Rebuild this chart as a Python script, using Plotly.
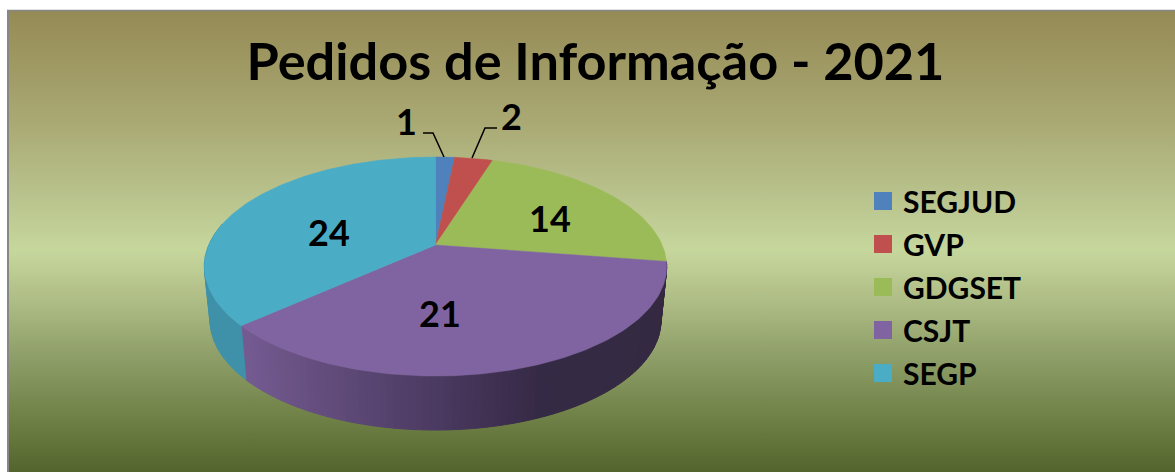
import math
import plotly.graph_objects as go

# ---- data ----
categories = ["SEGJUD", "GVP", "GDGSET", "CSJT", "SEGP"]
printed_labels = ["1", "2", "14", "21", "24"]
slice_sizes = [1.0, 2.0, 14.0, 22.3, 22.7]   # slice shares
title_text = "Pedidos de Informação - 2021"

# ---- style ----
top_colors = ["#4F81BD", "#C0504D", "#9BBB59", "#8064A2", "#4BACC6"]
bg_stops = [(0.0, "#958A55"), (0.238, "#A9A873"), (0.411, "#BAC48E"), (0.52, "#C6D79C"),
            (0.63, "#AEBC85"), (0.76, "#8C9C66"), (0.89, "#6D7F44"), (1.0, "#53652D")]
W, H = 1175, 472
CX, APEX_Y, A, B, K = 435.5, 245.0, 226.7, 105.3, 0.1964
DEPTH, SHRINK = 54.0, 0.975
label_xy = [(406, 121), (511, 116), (550, 218), (440, 313), (329, 232)]
font = "Lato"


def project(t_deg, r=1.0, lower=False):
    t = math.radians(t_deg)
    u, v = r * math.sin(t), r * math.cos(t)
    w = 1 + K * v
    x, y = A * u / w, B * v / w
    if lower:
        return CX + x * SHRINK, APEX_Y - y + DEPTH
    return CX + x, APEX_Y - y


def mix(stops, p):
    for (p0, c0), (p1, c1) in zip(stops, stops[1:]):
        if p <= p1:
            f = (p - p0) / (p1 - p0) if p1 > p0 else 0
            a = [int(c0[i:i + 2], 16) for i in (1, 3, 5)]
            b = [int(c1[i:i + 2], 16) for i in (1, 3, 5)]
            return "rgb(%d,%d,%d)" % tuple(round(a[i] + (b[i] - a[i]) * f) for i in range(3))
    return stops[-1][1]


purple_side = [(0, "#755B92"), (100, "#5F4A78"), (200, "#4A3960"), (260, "#3E2F50"), (300, "#352A45"), (500, "#33293F")]
blue_side = [(0, "#3E91A9"), (100, "#3E91A9")]

total = sum(slice_sizes)
edges = [0.0]
for s in slice_sizes:
    edges.append(edges[-1] + 360.0 * s / total)

fig = go.Figure()
fig.add_trace(go.Scatter(
    x=[7, W, W, 7, 7], y=[10, 10, H, H, 10], mode="lines", line=dict(width=0),
    fill="toself", fillcolor="rgba(0,0,0,0)",
    fillgradient=dict(type="vertical", start=10, stop=H,
                      colorscale=[[p, c] for p, c in bg_stops]),
    hoverinfo="skip", showlegend=False))


def strip(t0, t1, colour):
    pts = [project(t0), project(t1), project(t1, lower=True), project(t0, lower=True)]
    pts.append(pts[0])
    fig.add_trace(go.Scatter(
        x=[p[0] for p in pts], y=[p[1] for p in pts], mode="lines",
        line=dict(width=1, color=colour), fill="toself", fillcolor=colour,
        hoverinfo="skip", showlegend=False))


# Visible rim: purple then blue, with a colour ramp along the screen x position
t = edges[3]
while t < edges[4]:
    t1 = min(t + 1.5, edges[4])
    x_mid = project((t + t1) / 2)[0] - 240
    strip(t, t1, mix(purple_side, max(0, x_mid)))
    t = t1
t = edges[4]
while t < 282:
    t1 = min(t + 4, 282)
    strip(t, t1, blue_side[0][1])
    t = t1

# Top face
for i, cat in enumerate(categories):
    n = max(2, int((edges[i + 1] - edges[i]) / 1.0))
    arc = [project(edges[i] + (edges[i + 1] - edges[i]) * j / n) for j in range(n + 1)]
    pts = [(CX, APEX_Y)] + arc + [(CX, APEX_Y)]
    fig.add_trace(go.Scatter(
        x=[p[0] for p in pts], y=[p[1] for p in pts], mode="lines", name=cat,
        line=dict(width=0.5, color=top_colors[i]), fill="toself", fillcolor=top_colors[i],
        hovertemplate=cat + ": " + printed_labels[i] + "<extra></extra>", showlegend=False))

# Legend entries
for i, cat in enumerate(categories):
    fig.add_trace(go.Scatter(
        x=[None], y=[None], mode="markers", name="<b>%s</b>" % cat, legendgroup=cat,
        marker=dict(symbol="square", size=16, color=top_colors[i],
                    line=dict(width=2, color=top_colors[i]))))

annotations = [
    dict(x=x, y=y, xref="x", yref="y", text="<b>%s</b>" % s, showarrow=False,
         font=dict(family=font, size=36, color="#000000"))
    for s, (x, y) in zip(printed_labels, label_xy)
]

shapes = [
    dict(type="path", path="M423,133 L433,133 L444,157", xref="x", yref="y",
         line=dict(color="#000000", width=1.5)),
    dict(type="path", path="M497,128 L485,128 L472,158", xref="x", yref="y",
         line=dict(color="#000000", width=1.5)),
    dict(type="line", x0=8, x1=8, y0=10, y1=H, xref="x", yref="y", line=dict(color="#868686", width=2)),
    dict(type="line", x0=7, x1=W, y0=10.5, y1=10.5, xref="x", yref="y", line=dict(color="#868686", width=1.5)),
]

fig.update_layout(
    width=W, height=H, margin=dict(l=0, r=0, t=0, b=0),
    paper_bgcolor="#FFFFFF", plot_bgcolor="rgba(0,0,0,0)",
    xaxis=dict(range=[0, W], visible=False, fixedrange=True),
    yaxis=dict(range=[H, 0], visible=False, fixedrange=True),
    title=dict(text="<b>%s</b>" % title_text, x=595.5 / W, xanchor="center", y=1 - 62 / H, yanchor="middle",
               font=dict(family=font, size=52.3, color="#000000")),
    legend=dict(x=863 / W, y=1 - 175 / H, xanchor="left", yanchor="top", bgcolor="rgba(0,0,0,0)",
                font=dict(family=font, size=30, color="#000000"), tracegroupgap=1, borderwidth=0),
    annotations=annotations, shapes=shapes,
)

fig.write_html("out.html", config=dict(displayModeBar=False),
               post_script="document.body.style.margin='0';")
